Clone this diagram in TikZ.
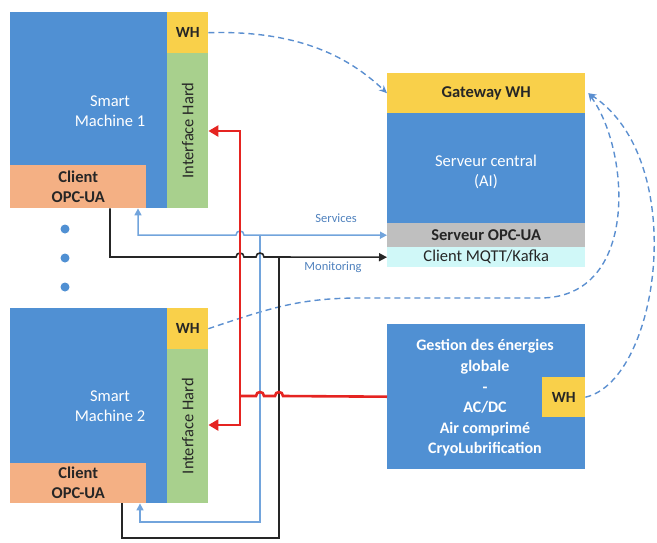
\documentclass[tikz,border=0pt]{standalone}
\usepackage{fontspec}
\setmainfont{Carlito}
\usetikzlibrary{arrows.meta,calc}
\definecolor{mblue}{HTML}{5090D3}
\definecolor{gold}{HTML}{F9D04A}
\definecolor{lgreen}{HTML}{A8D08D}
\definecolor{lorange}{HTML}{F4B084}
\definecolor{lgray}{HTML}{BFBFBF}
\definecolor{lcyan}{HTML}{D0F8F8}
\definecolor{txt}{HTML}{262626}
\definecolor{lineblue}{HTML}{72A4DC}
\definecolor{dashblue}{HTML}{5B8FD0}
\definecolor{labblue}{HTML}{4F81BD}
\definecolor{redl}{HTML}{E52421}
\begin{document}
\begin{tikzpicture}[x=1pt,y=-1pt,
  box/.style={inner sep=0pt, anchor=north west, align=center},
  big/.style={font=\fontsize{16.5}{20}\selectfont},
  bigb/.style={font=\fontsize{16.5}{20}\selectfont\bfseries},
  whf/.style={font=\fontsize{15.5}{17}\selectfont\bfseries, text=txt},
  redln/.style={draw=redl, line width=2.6pt},
  blueln/.style={draw=lineblue, line width=1.5pt},
  blackln/.style={draw=txt, line width=1.6pt},
  dashln/.style={draw=dashblue, line width=1.4pt, dash pattern=on 6pt off 4pt},
  lab/.style={font=\fontsize{12.5}{14}\selectfont, text=labblue}
]
\useasboundingbox (0,0) rectangle (657,542);

% Smart Machine 1
\node[box,fill=mblue,minimum width=157pt,minimum height=196pt] (sm1) at (10,12) {};
\node[box,fill=gold,minimum width=41pt,minimum height=41pt,whf] (wh1) at (167,12) {WH};
\node[box,fill=lgreen,minimum width=41pt,minimum height=155pt] (ih1) at (167,53) {};
\node[rotate=90,big,text=txt] (ih1t) at (ih1.center) {Interface Hard};
\node[box,fill=lorange,minimum width=136pt,minimum height=43pt,bigb,text=txt] (c1) at (10,165) {Client\\OPC-UA};
\node[big,text=white,align=center] (sm1t) at (110,111) {Smart\\Machine 1};

% dots
\fill[mblue] (65,229) circle (4.5) (65,258) circle (4.5) (65,287) circle (4.5);

% Smart Machine 2
\node[box,fill=mblue,minimum width=157pt,minimum height=195pt] (sm2) at (10,308) {};
\node[box,fill=gold,minimum width=41pt,minimum height=41pt,whf] (wh2) at (167,308) {WH};
\node[box,fill=lgreen,minimum width=41pt,minimum height=154pt] (ih2) at (167,349) {};
\node[rotate=90,big,text=txt] (ih2t) at (ih2.center) {Interface Hard};
\node[box,fill=lorange,minimum width=136pt,minimum height=40pt,bigb,text=txt] (c2) at (10,463) {Client\\OPC-UA};
\node[big,text=white,align=center] (sm2t) at (110,406) {Smart\\Machine 2};

% Central server
\node[box,fill=gold,minimum width=198pt,minimum height=40pt,bigb,text=txt] (gw) at (387,73) {Gateway WH};
\node[box,fill=mblue,minimum width=198pt,minimum height=110pt] (sc) at (387,113) {};
\node[big,text=white,align=center] (sct) at (486,172) {Serveur central\\(AI)};
\node[box,fill=lgray,minimum width=198pt,minimum height=24pt,bigb,text=txt] (sopc) at (387,223) {Serveur OPC-UA};
\node[box,fill=lcyan,minimum width=198pt,minimum height=20pt,big,text=txt] (mqtt) at (387,247) {Client MQTT/Kafka};

% Energy management
\node[box,fill=mblue,minimum width=198pt,minimum height=145pt] (gest) at (387,324) {};
\node[text=white,align=center,font=\fontsize{16}{20.6}\selectfont\bfseries] (gestt) at (485,398) {Gestion des énergies\\globale\\-\\AC/DC\\Air comprimé\\CryoLubrification};
\node[box,fill=gold,minimum width=43pt,minimum height=40pt,whf] (ghw) at (542,377) {WH};

% labels
\node[lab] (lserv) at (336,218) {Services};
\node[lab] (lmon) at (333,267) {Monitoring};

% coordinates
\coordinate (rtop) at (240,131);
\coordinate (rbot) at (240,425);
\coordinate (rj) at (240,396);
\coordinate (bj) at (260,235);
\coordinate (bl1) at (138,235);
\coordinate (bb) at (260,522);
\coordinate (bl2) at (140,522);
\coordinate (kl1) at (110,257);
\coordinate (kj) at (279,257);
\coordinate (kb) at (279,538);
\coordinate (kl2) at (122,538);

% dashed WH links
\draw[dashln,-{Stealth[length=8pt,width=7pt]}] (wh1.east) .. controls (300,30) and (350,58) .. (gw.west);
\draw[dashln,-{Stealth[length=8pt,width=7pt]}] (wh2.east) .. controls (270,308) and (300,298) .. (360,298) -- (540,298) .. controls (640,298) and (630,150) .. ($(gw.east)+(3,0)$);
\draw[dashln,-{Stealth[length=8pt,width=7pt]}] (ghw.east) .. controls (660,380) and (690,160) .. ($(gw.east)+(3,0)$);

% blue services
\draw[blueln,-{Triangle[length=7pt,width=7pt]}] (bj) -- (sopc.west);
\draw[blueln,-{Triangle[length=7pt,width=7pt]}] (bj) -- ($(rtop|-bj)+(4,0)$) .. controls ($(rtop|-bj)+(4,-5.3)$) and ($(rtop|-bj)+(-4,-5.3)$) .. ($(rtop|-bj)+(-4,0)$) -- (bl1) -- (bl1|-c1.south);
\draw[blueln,-{Triangle[length=7pt,width=7pt]}] (bj) -- (bb) -- (bl2) -- (bl2|-c2.south);

% black monitoring
\draw[blackln,-{Triangle[length=8pt,width=8pt]}] (kl1|-c1.south) -- (kl1) -- ($(rtop|-kl1)+(-4,0)$) .. controls ($(rtop|-kl1)+(-4,-5.3)$) and ($(rtop|-kl1)+(4,-5.3)$) .. ($(rtop|-kl1)+(4,0)$) -- ($(bj|-kl1)+(-4,0)$) .. controls ($(bj|-kl1)+(-4,-5.3)$) and ($(bj|-kl1)+(4,-5.3)$) .. ($(bj|-kl1)+(4,0)$) -- (mqtt.west);
\draw[blackln] (kj) -- (kb) -- (kl2) -- (kl2|-c2.south);

% red power
\draw[redln,{Triangle[length=10pt,width=11pt]}-{Triangle[length=10pt,width=11pt]}] (ih1.east|-rtop) -- (rtop) -- (rbot) -- (ih2.east|-rbot);
\draw[redln] (gest.west) -- ($(kj|-rj)+(4,0)$) .. controls ($(kj|-rj)+(4,-5.3)$) and ($(kj|-rj)+(-4,-5.3)$) .. ($(kj|-rj)+(-4,0)$) -- ($(bj|-rj)+(4,0)$) .. controls ($(bj|-rj)+(4,-5.3)$) and ($(bj|-rj)+(-4,-5.3)$) .. ($(bj|-rj)+(-4,0)$) -- (rj);
\end{tikzpicture}
\end{document}
